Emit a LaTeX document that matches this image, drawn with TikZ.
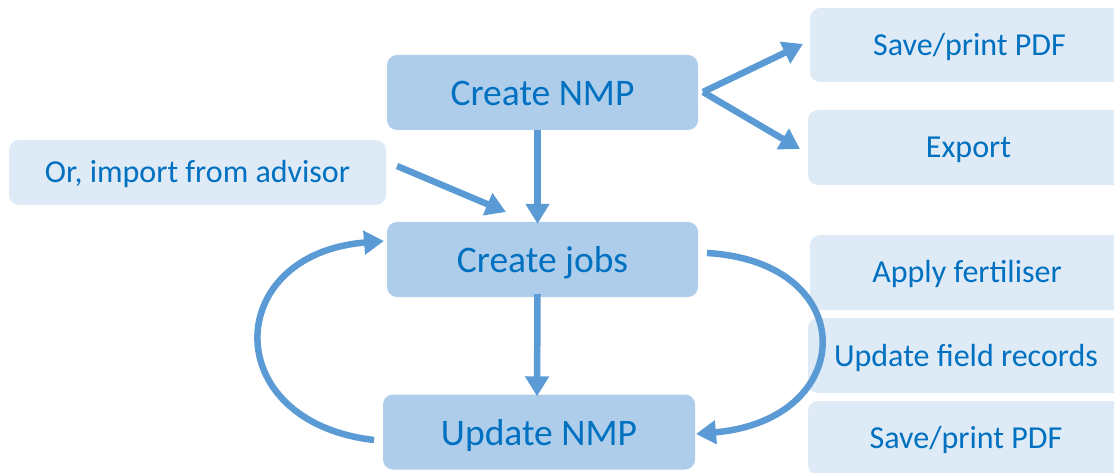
\documentclass[tikz,border=0pt]{standalone}
\usepackage{fontspec}
\setmainfont{Carlito}
\usetikzlibrary{arrows.meta,calc}
\definecolor{txtblue}{HTML}{0070C0}
\definecolor{mainfill}{HTML}{AECDEA}
\definecolor{lightfill}{HTML}{DEEAF6}
\definecolor{arrowblue}{HTML}{5B9BD5}
\tikzset{
  mainbox/.style={fill=mainfill, rounded corners=10pt, text=txtblue, font=\fontsize{37.5}{40}\selectfont, inner sep=0pt, minimum width=311pt, minimum height=75pt, text height=26pt, text depth=0pt},
  sidebox/.style={fill=lightfill, rounded corners=10pt, text=txtblue, font=\fontsize{32}{35}\selectfont, inner sep=0pt, minimum height=74pt, text height=21pt, text depth=0pt},
  flow/.style={draw=arrowblue, line width=6.5pt, -{Triangle[length=20pt,width=23pt]}}
}
\begin{document}
\begin{tikzpicture}[x=1pt,y=-1pt]
\useasboundingbox (0,0) rectangle (1114,473);
% main boxes
\node[mainbox] (cnmp) at (542.5,92.5) {Create NMP};
\node[mainbox] (cjobs) at (542.5,259.5) {Create jobs};
\node[mainbox, minimum width=312pt] (unmp) at (539,432) {Update NMP};
% side boxes
\node[sidebox, minimum width=319pt] (save1) at (969.5,45) {Save/print PDF};
\node[sidebox, minimum width=321pt, minimum height=75pt] (export) at (968.5,147.5) {Export};
\node[sidebox, minimum width=377pt, minimum height=65pt] (import) at (197.5,172.5) {Or, import from advisor};
\node[sidebox, minimum width=314pt, minimum height=75pt] (apply) at (967,272.5) {Apply fertiliser};
\node[sidebox, minimum width=316pt, minimum height=75pt] (upd) at (966,355.5) {Update field records};
\node[sidebox, minimum width=316pt, minimum height=74pt] (save2) at (966,438) {Save/print PDF};
% connectors
\coordinate (split) at (703,92);
\draw[flow] (split) -- (803,44);
\draw[flow] (split) -- (800,149);
\draw[flow] ([xshift=-5pt]cnmp.south) -- ([xshift=-5pt,yshift=-2pt]cjobs.north);
\draw[flow] ([xshift=-5pt,yshift=3pt]cjobs.south) -- ([xshift=-2pt,yshift=-2pt]unmp.north);
\coordinate (impstart) at (397,166);
\draw[flow] (impstart) -- (506,212);
\draw[flow] (707,253) .. controls (862,262) and (858,420) .. (696,434);
\draw[flow] (374,440) .. controls (218,422) and (222,254) .. (384,241);
\end{tikzpicture}
\end{document}
